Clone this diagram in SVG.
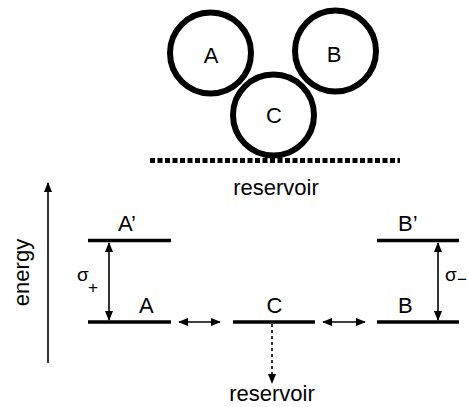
<svg xmlns="http://www.w3.org/2000/svg" width="467" height="407" viewBox="0 0 467 407">
<style>
text{font-family:"Liberation Sans",Arial,sans-serif;fill:#000}
.lbl{font-size:22px}
.ring{fill:none;stroke:#000;stroke-width:6}
.lvl{stroke:#000;stroke-width:3.5}
.arr{stroke:#000;stroke-width:1.6;fill:none}
</style>
<defs>
<marker id="ah" viewBox="0 0 10 8" refX="9" refY="4" markerWidth="10" markerHeight="8" markerUnits="userSpaceOnUse" orient="auto-start-reverse">
<path d="M0,0 L10,4 L0,8 z" fill="#000"/>
</marker>
</defs>
<rect width="467" height="407" fill="#fff"/>
<g id="circle-A"><circle class="ring" cx="210.5" cy="53" r="40.5"/><text class="lbl" x="211" y="63" text-anchor="middle">A</text></g>
<g id="circle-B"><circle class="ring" cx="335.5" cy="51" r="40.5"/><text class="lbl" x="334" y="62" text-anchor="middle">B</text></g>
<g id="circle-C"><circle class="ring" cx="273.5" cy="115" r="40.5"/><text class="lbl" x="274" y="123" text-anchor="middle">C</text></g>
<g id="reservoir-top"><line x1="150" y1="160.5" x2="400" y2="160.5" stroke="#000" stroke-width="5" stroke-dasharray="5,2.5"/><text class="lbl" x="276" y="195" text-anchor="middle">reservoir</text></g>
<g id="energy-axis"><text class="lbl" transform="translate(29,272.5) rotate(-90)" text-anchor="middle">energy</text></g>
<g id="level-A-prime"><line class="lvl" x1="88" y1="240.5" x2="171" y2="240.5"/><text class="lbl" x="118" y="231">A’</text></g>
<g id="level-A"><line class="lvl" x1="88" y1="322" x2="171" y2="322"/><text class="lbl" x="139" y="313">A</text></g>
<g id="level-C"><line class="lvl" x1="233" y1="322" x2="315" y2="322"/><text class="lbl" x="274.5" y="313" text-anchor="middle">C</text></g>
<g id="level-B-prime"><line class="lvl" x1="377" y1="240.5" x2="459" y2="240.5"/><text class="lbl" x="398" y="231">B’</text></g>
<g id="level-B"><line class="lvl" x1="377" y1="322" x2="459" y2="322"/><text class="lbl" x="398" y="313">B</text></g>
<g id="reservoir-bottom"><text class="lbl" x="272" y="401" text-anchor="middle">reservoir</text></g>
<g id="sigma-plus"><text x="77" y="281" font-size="19">σ</text><text x="88" y="293" font-size="17">+</text></g>
<g id="sigma-minus"><text x="445" y="281" font-size="19">σ</text><text x="457" y="285" font-size="17">−</text></g>
<g id="connectors">
<line class="arr" x1="48" y1="363" x2="48" y2="183" marker-end="url(#ah)"/>
<line class="arr" x1="109" y1="243" x2="109" y2="320" stroke-width="2" marker-start="url(#ah)" marker-end="url(#ah)"/>
<line class="arr" x1="438" y1="243" x2="438" y2="320" stroke-width="2" marker-start="url(#ah)" marker-end="url(#ah)"/>
<line class="arr" x1="179" y1="322" x2="220" y2="322" marker-start="url(#ah)" marker-end="url(#ah)"/>
<line class="arr" x1="323" y1="322" x2="365" y2="322" marker-start="url(#ah)" marker-end="url(#ah)"/>
<line class="arr" x1="272" y1="324" x2="272" y2="383" stroke-dasharray="3,3" marker-end="url(#ah)"/>
</g>
</svg>
